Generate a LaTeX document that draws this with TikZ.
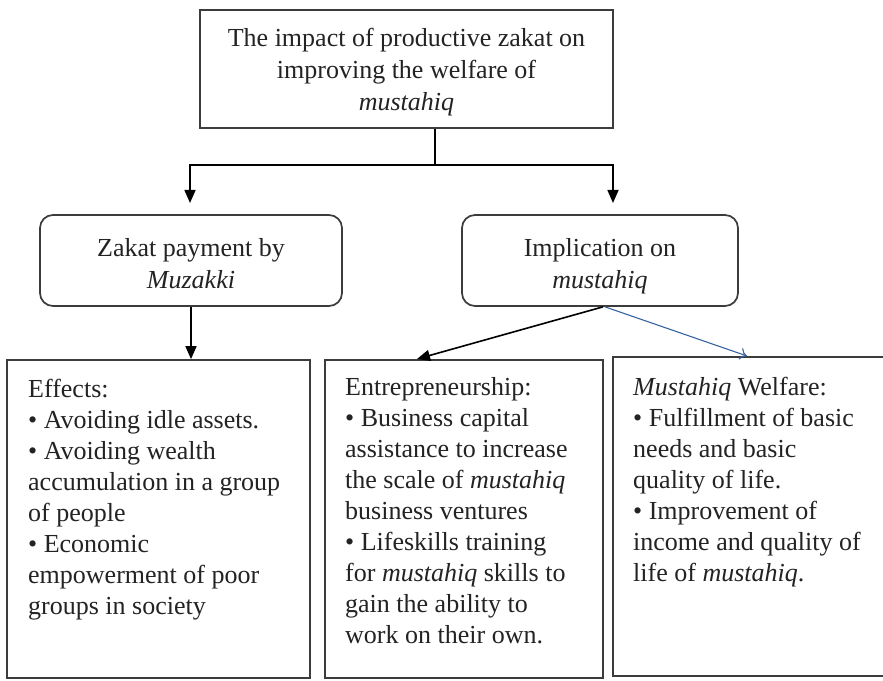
\documentclass[tikz,border=0pt]{standalone}
\usepackage{fontspec}
\setmainfont{Liberation Serif}
\usetikzlibrary{arrows.meta,calc}
\definecolor{boxline}{RGB}{60,60,60}
\definecolor{txt}{RGB}{35,35,35}
\definecolor{bluelink}{RGB}{55,100,160}
\begin{document}
\begin{tikzpicture}[x=1pt,y=1pt,
  frame/.style={draw=boxline, line width=1.7pt, inner sep=0pt},
  roundbox/.style={frame, rounded corners=13pt},
  plainbox/.style={frame},
  headtext/.style={inner sep=0pt, align=center, text=txt,
      font=\fontsize{26}{32}\selectfont},
  bodytext/.style={anchor=north west, inner sep=0pt, align=left, text=txt,
      font=\fontsize{26}{31}\selectfont},
  link/.style={draw=black, line width=1.6pt},
  blackarrow/.style={link, -{Triangle[length=13pt,width=11pt]}},
  bluearrow/.style={draw=bluelink, line width=1.1pt, -{To[length=7pt,width=12pt]}}
]
\clip (0,0) rectangle (883,680);
\fill[white] (0,0) rectangle (883,680);

% top box
\node[frame, minimum width=413, minimum height=118] (top) at (406.5,611) {};
\node[headtext] (toptext) at ($(top.center)+(0,-3.5)$)
  {The impact of productive zakat on\\improving the welfare of\\\textit{mustahiq}};

% middle rounded boxes
\node[roundbox, minimum width=302, minimum height=91] (zak) at (191,419.5) {};
\node[headtext] (zaktext) at ($(zak.center)+(0,-3)$)
  {Zakat payment by\\\textit{Muzakki}};
\node[roundbox, minimum width=276, minimum height=91] (imp) at (600,419.5) {};
\node[headtext] (imptext) at ($(imp.center)+(0,-6)$)
  {Implication on\\\textit{mustahiq}};

% bottom boxes
\node[plainbox, minimum width=303, minimum height=318] (eff) at (158.5,161) {};
\node[plainbox, minimum width=278, minimum height=318] (ent) at (464,161) {};
\node[plainbox, minimum width=273, minimum height=319] (wel) at (749.5,163.5) {};

\node[bodytext] (efftext) at (28,301)
  {Effects:\\
   • Avoiding idle assets.\\
   • Avoiding wealth\\
   accumulation in a group\\
   of people\\
   • Economic\\
   empowerment of poor\\
   groups in society};
\node[bodytext] (enttext) at (345,303)
  {Entrepreneurship:\\
   • Business capital\\
   assistance to increase\\
   the scale of \textit{mustahiq}\\
   business ventures\\
   • Lifeskills training\\
   for \textit{mustahiq} skills to\\
   gain the ability to\\
   work on their own.};
\node[bodytext] (weltext) at (633,303)
  {\textit{Mustahiq} Welfare:\\
   • Fulfillment of basic\\
   needs and basic\\
   quality of life.\\
   • Improvement of\\
   income and quality of\\
   life of \textit{mustahiq}.};

% connectors
\coordinate (stem) at ($(top.south)+(28.5,0)$);
\coordinate (junc) at (435,515);
\coordinate (lt) at (190,477);
\coordinate (rt) at (613,477);
\coordinate (impfoot) at ($(imp.south)+(3,0)$);
\coordinate (enttip) at (417,321);
\coordinate (weltip) at (747,324);

\draw[link] (stem) -- (junc);
\draw[blackarrow] (junc) -| (lt);
\draw[blackarrow] (junc) -| (rt);
\draw[blackarrow] (zak.south) -- (zak.south |- eff.north);
\draw[blackarrow] (impfoot) -- (enttip);
\draw[bluearrow] ($(impfoot)+(2,0)$) -- (weltip);
\end{tikzpicture}
\end{document}
